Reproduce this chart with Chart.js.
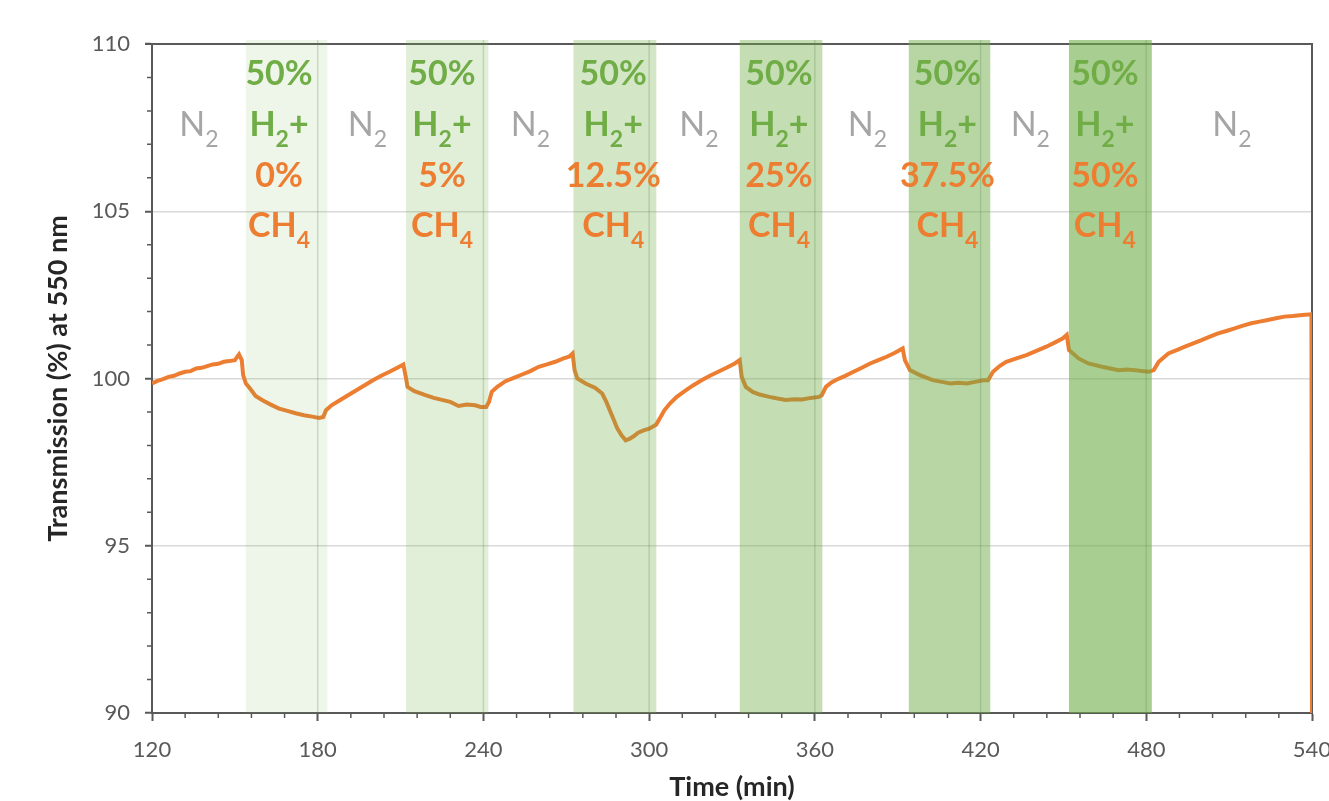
<!DOCTYPE html>
<html>
<head>
<meta charset="utf-8">
<script src="https://cdn.jsdelivr.net/npm/chart.js@4.4.1/dist/chart.umd.min.js"></script>
<style>
  html, body { margin: 0; padding: 0; background: #fff; }
  canvas { display: block; }
</style>
</head>
<body>
<canvas id="chart" width="1329" height="801"></canvas>
<script>
// time (min) and transmission (%)
const timeMin = [
  120, 122, 124, 126, 128, 130, 132, 134, 136, 138, 140, 142, 144, 146, 148, 150, 151.5, 152.5,
  153, 154, 155.5, 157.5, 160, 163, 166, 169, 172, 175, 178, 180.5, 182, 183, 185, 188, 191, 194,
  197, 200, 203, 206, 209, 211, 212, 212.5, 215, 219, 222, 225, 228, 231, 234, 237, 239, 241,
  242, 243, 245, 248, 251, 254, 257, 260, 263, 266, 269, 271, 272.3, 273, 274, 277, 280.5, 283,
  284.5, 286.5, 288.5, 290, 291.5, 293, 294.5, 296, 298, 300, 302.5, 303.8, 305.5, 307.5, 310, 313,
  316, 319, 322, 325, 328, 331, 332.8, 333.5, 335, 337.5, 340, 343.5, 346.5, 349.5, 352.5, 355.5,
  358.5, 361.5, 362.5, 364, 366, 368, 371, 374, 377, 380, 383, 386, 389, 391.8, 392.6, 394.4,
  398, 402.7, 406, 409, 412, 415, 418, 421, 422.7, 424.5, 427, 429.3, 433, 436.6, 440, 443.8,
  447, 449.8, 451.2, 452, 455.5, 459, 464, 467, 470, 473, 476, 479, 481, 482.7, 484.5, 488,
  491, 494, 497, 500, 503, 506, 509, 512, 515, 518, 521, 524, 527, 530, 533, 536.5, 539.8, 540
];
const transmission = [
  99.85, 99.93, 99.98, 100.05, 100.08, 100.15, 100.2, 100.22, 100.3, 100.32, 100.37, 100.42, 100.44, 100.5, 100.52, 100.55, 100.72, 100.55,
  100.1, 99.85, 99.7, 99.48, 99.35, 99.22, 99.1, 99.03, 98.96, 98.9, 98.86, 98.82, 98.85, 99.05, 99.2, 99.35, 99.5, 99.65,
  99.8, 99.95, 100.08, 100.2, 100.33, 100.42, 100.0, 99.75, 99.62, 99.5, 99.42, 99.36, 99.3, 99.18, 99.22, 99.2, 99.15, 99.15,
  99.3, 99.6, 99.75, 99.92, 100.02, 100.12, 100.22, 100.35, 100.42, 100.5, 100.6, 100.65, 100.75, 100.25, 100.0, 99.85, 99.72, 99.55,
  99.3, 98.9, 98.5, 98.3, 98.15, 98.2, 98.28, 98.38, 98.45, 98.5, 98.62, 98.8, 99.05, 99.25, 99.45, 99.63,
  99.8, 99.95, 100.08, 100.2, 100.32, 100.45, 100.55, 100.05, 99.75, 99.6, 99.52, 99.45, 99.4, 99.36, 99.38, 99.37,
  99.42, 99.45, 99.5, 99.75, 99.88, 99.97, 100.08, 100.2, 100.32, 100.45, 100.55, 100.65, 100.77, 100.9, 100.55, 100.25,
  100.1, 99.95, 99.9, 99.85, 99.87, 99.85, 99.9, 99.95, 99.95, 100.2, 100.38, 100.5, 100.6, 100.7, 100.82, 100.95,
  101.08, 101.2, 101.3, 100.85, 100.6, 100.45, 100.35, 100.3, 100.25, 100.27, 100.25, 100.22, 100.2, 100.25, 100.5, 100.75,
  100.85, 100.95, 101.05, 101.15, 101.25, 101.35, 101.42, 101.5, 101.58, 101.65, 101.7, 101.75, 101.8, 101.85, 101.87, 101.9, 101.92, 90
];

// gas-flow windows (50% H2 + x% CH4), in minutes
const bandStart = [154, 212, 272.6, 332.8, 394, 452];
const bandEnd = [183.5, 241.8, 302.6, 362.7, 423.5, 482];
const bandAlpha = [0.12, 0.21, 0.31, 0.41, 0.5, 0.6];
const bandLabelX = [166, 225, 287, 347, 408, 465];
const h2Label = '50%';
const ch4Labels = ['0%', '5%', '12.5%', '25%', '37.5%', '50%'];
const n2LabelX = [137, 198, 257, 318, 379, 438, 511];
const labelRowY = [108.77, 107.25, 105.73, 104.24];

const GREEN = '#70ad47', ORANGE = '#ed7d31', GRAY = '#a5a5a5', AXIS = '#595959';
const FONT = 'Lato';

function drawRich(ctx, parts, cx, baseY, size, weight) {
  const big = `${weight} ${size}px ${FONT}`;
  const small = `${weight} ${Math.round(size * 0.68)}px ${FONT}`;
  let w = 0;
  parts.forEach(([t, sub]) => { ctx.font = sub ? small : big; w += ctx.measureText(t).width; });
  let x = cx - w / 2;
  parts.forEach(([t, sub]) => {
    ctx.font = sub ? small : big;
    ctx.fillText(t, x, baseY + (sub ? size * 0.32 : 0));
    x += ctx.measureText(t).width;
  });
}

const frame = {
  id: 'frame',
  beforeDatasetsDraw(chart) {
    const { ctx, chartArea: a } = chart;
    ctx.save();
    ctx.strokeStyle = AXIS;
    ctx.lineWidth = 2;
    ctx.beginPath();
    ctx.moveTo(a.left - 7, a.top);
    ctx.lineTo(a.right, a.top);
    ctx.lineTo(a.right, a.bottom);
    ctx.stroke();
    ctx.restore();
  }
};

const bands = {
  id: 'bands',
  afterDatasetsDraw(chart) {
    const { ctx, chartArea: a, scales: { x, y } } = chart;
    ctx.save();
    bandStart.forEach((s, i) => {
      const x0 = x.getPixelForValue(s), x1 = x.getPixelForValue(bandEnd[i]);
      ctx.fillStyle = `rgba(112,173,71,${bandAlpha[i]})`;
      ctx.fillRect(x0, a.top - 4, x1 - x0, a.bottom - a.top + 4);
      // faint vertical grid line showing through the band
      for (let v = Math.ceil(s / 60) * 60; v < bandEnd[i]; v += 60) {
        const px = x.getPixelForValue(v);
        ctx.strokeStyle = 'rgba(90,130,80,0.25)';
        ctx.lineWidth = 1.5;
        ctx.beginPath();
        ctx.moveTo(px, a.top - 4);
        ctx.lineTo(px, a.bottom);
        ctx.stroke();
      }
    });

    ctx.textAlign = 'left';
    ctx.textBaseline = 'alphabetic';
    bandLabelX.forEach((v, i) => {
      const cx = x.getPixelForValue(v);
      ctx.fillStyle = GREEN;
      drawRich(ctx, [[h2Label]], cx, y.getPixelForValue(labelRowY[0]), 34, 'bold');
      drawRich(ctx, [['H'], ['2', true], ['+']], cx, y.getPixelForValue(labelRowY[1]), 34, 'bold');
      ctx.fillStyle = ORANGE;
      drawRich(ctx, [[ch4Labels[i]]], cx, y.getPixelForValue(labelRowY[2]), 34, 'bold');
      drawRich(ctx, [['CH'], ['4', true]], cx, y.getPixelForValue(labelRowY[3]), 34, 'bold');
    });
    ctx.fillStyle = GRAY;
    n2LabelX.forEach(v => {
      drawRich(ctx, [['N'], ['2', true]], x.getPixelForValue(v), y.getPixelForValue(labelRowY[1]), 34, 'normal');
    });
    ctx.restore();
  }
};

const minorTicks = {
  id: 'minorTicks',
  afterDraw(chart) {
    const { ctx, chartArea: a, scales: { x, y } } = chart;
    ctx.save();
    ctx.strokeStyle = AXIS;
    ctx.lineWidth = 1.5;
    ctx.beginPath();
    for (let v = x.min + 12; v < x.max; v += 12) {
      if (v % 60 === 0) continue;
      const px = x.getPixelForValue(v);
      ctx.moveTo(px, a.bottom);
      ctx.lineTo(px, a.bottom + 5);
    }
    for (let v = y.min + 1; v < y.max; v += 1) {
      if (v % 5 === 0) continue;
      const py = y.getPixelForValue(v);
      ctx.moveTo(a.left - 5, py);
      ctx.lineTo(a.left, py);
    }
    ctx.stroke();
    ctx.restore();
  }
};

new Chart(document.getElementById('chart'), {
  type: 'line',
  data: {
    datasets: [{
      data: timeMin.map((t, i) => ({ x: t, y: transmission[i] })),
      borderColor: ORANGE,
      borderWidth: 4,
      pointRadius: 0,
      tension: 0
    }]
  },
  options: {
    responsive: false,
    animation: false,
    layout: { padding: { top: 44, right: 17, left: 0, bottom: 0 } },
    plugins: { legend: { display: false }, tooltip: { enabled: false } },
    scales: {
      x: {
        type: 'linear',
        min: 120,
        max: 540,
        ticks: { stepSize: 60, color: AXIS, font: { family: FONT, size: 22 }, padding: 16, maxRotation: 0 },
        grid: { drawOnChartArea: false, tickLength: 8, tickColor: AXIS, tickWidth: 2 },
        border: { color: AXIS, width: 2 },
        title: {
          display: true,
          text: 'Time (min)',
          color: '#262626',
          font: { family: FONT, size: 27, weight: 'bold', lineHeight: 1 },
          padding: { top: 0, bottom: 0 }
        },
        afterFit(s) { s.height = 88; s.paddingLeft = 0; s.paddingRight = 0; }
      },
      y: {
        min: 90,
        max: 110,
        ticks: { stepSize: 5, color: AXIS, font: { family: FONT, size: 22 }, padding: 15 },
        grid: {
          color: c => (c.tick && c.tick.value === 110) ? 'rgba(0,0,0,0)' : '#d9d9d9',
          lineWidth: 1.5,
          tickLength: 7,
          tickColor: AXIS,
          tickWidth: 2
        },
        border: { color: AXIS, width: 2 },
        title: {
          display: true,
          text: 'Transmission (%) at 550 nm',
          color: '#262626',
          font: { family: FONT, size: 27, weight: 'bold', lineHeight: 1 },
          padding: { top: 45, bottom: 0 }
        },
        afterFit(s) { s.width = 152; s.paddingTop = 0; s.paddingBottom = 0; }
      }
    }
  },
  plugins: [frame, bands, minorTicks]
});
</script>
</body>
</html>
